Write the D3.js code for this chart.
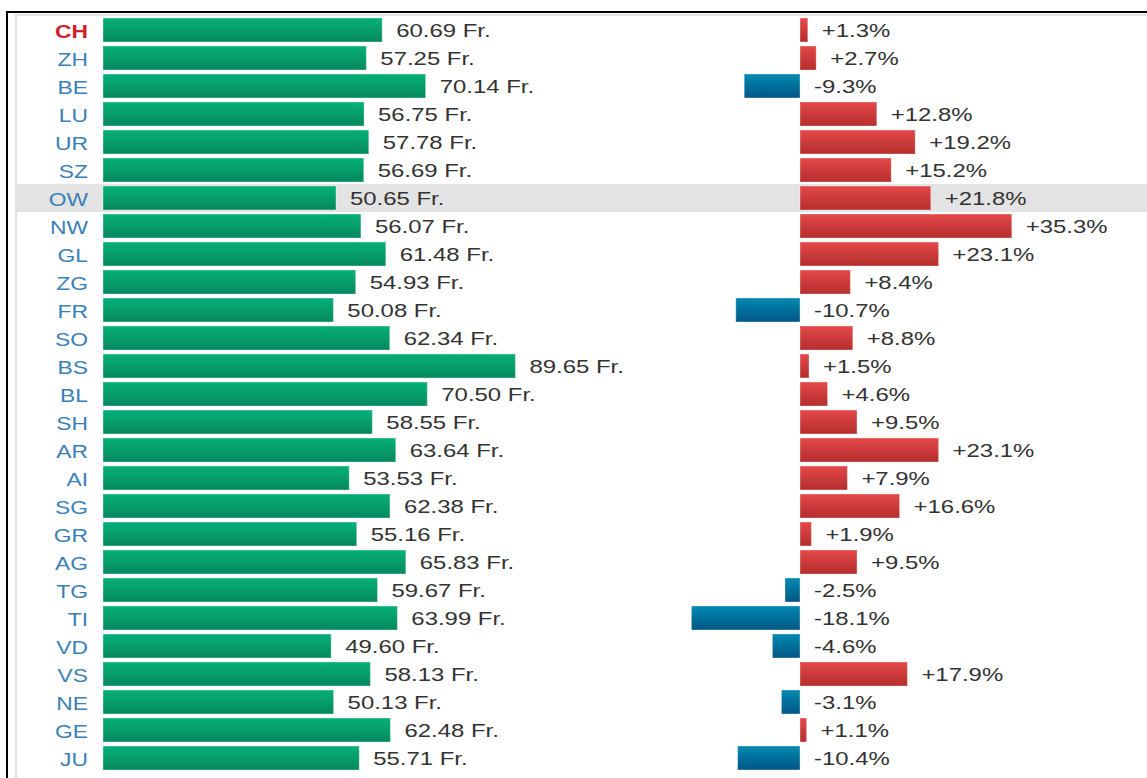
<!DOCTYPE html>
<html>
<head>
<meta charset="utf-8">
<script src="https://cdn.jsdelivr.net/npm/d3@7"></script>
<style>
  body { margin: 0; background: #fff; }
  text { font-family: "Liberation Sans", Arial, sans-serif; }
</style>
</head>
<body>
<div id="chart"></div>
<script>
var cantons = ["CH","ZH","BE","LU","UR","SZ","OW","NW","GL","ZG","FR","SO","BS","BL","SH","AR","AI","SG","GR","AG","TG","TI","VD","VS","NE","GE","JU"];
var prices = [60.69,57.25,70.14,56.75,57.78,56.69,50.65,56.07,61.48,54.93,50.08,62.34,89.65,70.50,58.55,63.64,53.53,62.38,55.16,65.83,59.67,63.99,49.60,58.13,50.13,62.48,55.71];
var changes = [1.3,2.7,-9.3,12.8,19.2,15.2,21.8,35.3,23.1,8.4,-10.7,8.8,1.5,4.6,9.5,23.1,7.9,16.6,1.9,9.5,-2.5,-18.1,-4.6,17.9,-3.1,1.1,-10.4];
var highlight = "OW";

var width = 1147, height = 778;
var stretch = 1.33;      // value text in the original is drawn wide
var labelStretch = 1.27; // canton labels a little less

var svg = d3.select("#chart")
  .append("svg")
    .attr("width", width)
    .attr("height", height);

// gradients for the bars
var defs = svg.append("defs");
function grad(id, top, bottom) {
  var g = defs.append("linearGradient").attr("id", id)
    .attr("x1", 0).attr("y1", 0).attr("x2", 0).attr("y2", 1);
  g.append("stop").attr("offset", "0%").attr("stop-color", top);
  g.append("stop").attr("offset", "100%").attr("stop-color", bottom);
}
grad("gGreen", "#07b177", "#04885d");
grad("gRed", "#e44848", "#b52e2e");
grad("gBlue", "#0189b2", "#025685");

// frame
svg.append("rect").attr("x", 6).attr("y", 11).attr("width", width).attr("height", 2).style("fill", "#000");
svg.append("rect").attr("x", 6).attr("y", 11).attr("width", 2).attr("height", height).style("fill", "#000");
svg.append("rect").attr("x", 16).attr("y", 15).attr("width", width).attr("height", height)
  .style("fill", "#fff").style("stroke", "#e2e2e2").style("stroke-width", 2);

var y = d3.scaleBand()
  .domain(cantons)
  .range([16, 16 + 28 * cantons.length])
  .paddingInner(4 / 28)
  .paddingOuter(2 / 28);

var x = d3.scaleLinear().domain([0, 100]).range([103, 563]);
var x2 = d3.scaleLinear().domain([-20, 40]).range([680, 1040]);

var step = y.step(), pad = (step - y.bandwidth()) / 2;

// highlighted row
svg.append("rect")
  .attr("x", 17)
  .attr("y", y(highlight) - pad)
  .attr("width", width)
  .attr("height", step)
  .style("fill", "#e3e3e3");

var rows = svg.append("g").selectAll("g")
  .data(cantons)
  .enter()
  .append("g");

function place(px, d, s) {
  return "translate(" + px + "," + (y(d) + y.bandwidth() / 2 + 1) + ") scale(" + s + ",1)";
}

// canton labels
rows.append("text")
  .attr("transform", function (d) { return place(88, d, labelStretch); })
  .attr("text-anchor", "end")
  .attr("dominant-baseline", "central")
  .style("font-size", "18px")
  .style("font-weight", function (d) { return d == "CH" ? "bold" : "normal"; })
  .style("fill", function (d) { return d == "CH" ? "#d0212b" : "#3a80b8"; })
  .text(function (d) { return d; });

// price bars
rows.append("rect")
  .attr("x", x(0))
  .attr("y", function (d) { return y(d); })
  .attr("width", function (d, i) { return x(prices[i]) - x(0); })
  .attr("height", y.bandwidth())
  .style("fill", "url(#gGreen)")
  .style("stroke", "rgba(255,255,255,0.35)")
  .style("stroke-width", 1);

rows.append("text")
  .attr("transform", function (d, i) { return place(x(prices[i]) + 14, d, stretch); })
  .attr("dominant-baseline", "central")
  .style("font-size", "18px")
  .style("fill", "#333")
  .text(function (d, i) { return prices[i].toFixed(2) + " Fr."; });

// change bars
rows.append("rect")
  .attr("x", function (d, i) { return x2(Math.min(0, changes[i])); })
  .attr("y", function (d) { return y(d); })
  .attr("width", function (d, i) { return Math.abs(x2(changes[i]) - x2(0)); })
  .attr("height", y.bandwidth())
  .style("fill", function (d, i) { return changes[i] < 0 ? "url(#gBlue)" : "url(#gRed)"; })
  .style("stroke", "rgba(255,255,255,0.35)")
  .style("stroke-width", 1);

rows.append("text")
  .attr("transform", function (d, i) { return place(x2(Math.max(0, changes[i])) + 14, d, stretch); })
  .attr("dominant-baseline", "central")
  .style("font-size", "18px")
  .style("fill", "#333")
  .text(function (d, i) { return (changes[i] > 0 ? "+" : "") + changes[i].toFixed(1) + "%"; });
</script>
</body>
</html>
